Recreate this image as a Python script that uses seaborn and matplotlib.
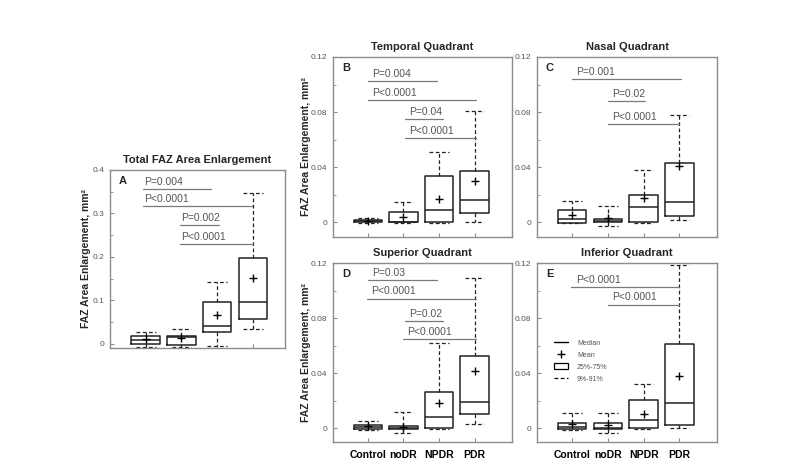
import matplotlib
matplotlib.use("Agg")
import matplotlib.pyplot as plt
import seaborn as sns
import pandas as pd
from matplotlib.lines import Line2D
from matplotlib.patches import Patch
from matplotlib.ticker import MultipleLocator

###############################################################################
# 1. DATA
###############################################################################
groups = ["Control", "noDR", "NPDR", "PDR"]

# Total FAZ area enlargement (panel A)
a_med = [0.0084, 0.0168, 0.0412, 0.097]
a_q1 = [-0.0008, -0.0015, 0.0267, 0.058]
a_q3 = [0.019, 0.019, 0.0954, 0.1977]
a_lo = [-0.006, -0.0076, -0.0038, 0.0336]
a_hi = [0.0267, 0.0344, 0.1435, 0.3466]
a_mean = [0.0122, 0.0145, 0.0656, 0.152]

# Temporal quadrant (panel B)
b_med = [0.0005, 0.0, 0.0085, 0.0158]
b_q1 = [-0.0002, -0.0002, 0.0, 0.0065]
b_q3 = [0.0012, 0.0073, 0.0332, 0.0371]
b_lo = [-0.001, -0.0007, -0.0007, 0.0002]
b_hi = [0.003, 0.0143, 0.0507, 0.0807]
b_mean = [0.0005, 0.0036, 0.0167, 0.0296]

# Nasal quadrant (panel C)
c_med = [0.0022, 0.0005, 0.0111, 0.0148]
c_q1 = [-0.0007, -0.0002, 0.0, 0.0041]
c_q3 = [0.0087, 0.0022, 0.0196, 0.0429]
c_lo = [-0.0007, -0.0027, -0.0007, 0.0012]
c_hi = [0.015, 0.0114, 0.0378, 0.0778]
c_mean = [0.0048, 0.0027, 0.0172, 0.041]

# Superior quadrant (panel D)
d_med = [0.0007, 0.0005, 0.008, 0.0187]
d_q1 = [-0.0007, -0.0005, 0.0, 0.01]
d_q3 = [0.0022, 0.0017, 0.026, 0.0528]
d_lo = [-0.0012, -0.0032, -0.0005, 0.0029]
d_hi = [0.0049, 0.0119, 0.0621, 0.109]
d_mean = [0.0017, 0.0012, 0.0183, 0.0416]

# Inferior quadrant (panel E)
e_med = [0.001, 0.0005, 0.0058, 0.018]
e_q1 = [-0.0002, -0.0005, 0.0, 0.0024]
e_q3 = [0.0039, 0.0039, 0.0204, 0.0613]
e_lo = [-0.001, -0.0032, -0.0005, 0.0002]
e_hi = [0.011, 0.011, 0.0321, 0.1185]
e_mean = [0.0032, 0.0027, 0.0102, 0.038]

# p-value brackets: (start group pos, end group pos, y, label)
a_pvals = [(0.93, 2.83, 0.3565, "P=0.004"), (0.93, 3.97, 0.3176, "P<0.0001"),
           (1.96, 3.04, 0.2725, "P=0.002"), (1.96, 3.99, 0.2305, "P<0.0001")]
b_pvals = [(1.0, 2.93, 0.1023, "P=0.004"), (1.0, 4.04, 0.0890, "P<0.0001"),
           (2.03, 3.1, 0.0749, "P=0.04"), (2.03, 4.04, 0.0611, "P<0.0001")]
c_pvals = [(1.0, 4.05, 0.104, "P=0.001"), (2.0, 3.05, 0.088, "P=0.02"),
           (2.0, 4.0, 0.071, "P<0.0001")]
d_pvals = [(1.0, 2.93, 0.1073, "P=0.03"), (0.97, 4.03, 0.0942, "P<0.0001"),
           (2.04, 3.1, 0.0779, "P=0.02"), (1.98, 4.03, 0.0645, "P<0.0001")]
e_pvals = [(0.98, 4.0, 0.1024, "P<0.0001"), (2.0, 4.0, 0.0898, "P<0.0001")]

###############################################################################
# 2. STYLE
###############################################################################
sns.set_style("ticks")
plt.rcParams["font.family"] = ["Liberation Sans", "DejaVu Sans"]
plt.rcParams["axes.edgecolor"] = "#8c8c8c"
plt.rcParams["axes.linewidth"] = 1.0
plt.rcParams["xtick.direction"] = "in"
plt.rcParams["ytick.direction"] = "in"
plt.rcParams["xtick.color"] = "#8c8c8c"
plt.rcParams["ytick.color"] = "#8c8c8c"
plt.rcParams["xtick.labelcolor"] = "black"
plt.rcParams["ytick.labelcolor"] = "#555555"

W, H = 799, 475
fig = plt.figure(figsize=(W / 100, H / 100), dpi=100)


def px_axes(left, right, top, bottom):
    return fig.add_axes([left / W, 1 - bottom / H, (right - left) / W, (bottom - top) / H])


###############################################################################
# 3. PANEL DRAWING
###############################################################################
def draw_panel(ax, med, q1, q3, lo, hi, mean, pvals, title, letter, ylim,
               major, xlim, ylabel=False, ylab_x=0.12, xlabels=False, txt_dx=0.12):
    stats = []
    for i in range(len(groups)):
        stats.append(dict(med=med[i], q1=q1[i], q3=q3[i], whislo=lo[i],
                          whishi=hi[i], fliers=[], label=groups[i]))
    pos = list(range(1, len(groups) + 1))
    ax.bxp(stats, positions=pos, widths=0.8, capwidths=0.55, showfliers=False,
           boxprops=dict(color="#222222", linewidth=1.1),
           medianprops=dict(color="#222222", linewidth=1.1),
           whiskerprops=dict(color="#222222", linewidth=0.9, linestyle=(0, (3, 2))),
           capprops=dict(color="#222222", linewidth=0.9, linestyle=(0, (3, 2))))
    df = pd.DataFrame({"pos": pos, "mean": mean})
    sns.scatterplot(data=df, x="pos", y="mean", marker="+", s=40, color="black",
                    linewidth=1.0, ax=ax, zorder=5)

    for x0, x1, y, lab in pvals:
        ax.plot([x0, x1], [y, y], color="#7a7a7a", linewidth=0.9)
        ax.annotate(lab, (x0 + txt_dx, y), xytext=(0, 1.5), textcoords="offset points",
                    ha="left", va="bottom", fontsize=7.5, color="#555555")

    ax.set_xlim(*xlim)
    ax.set_ylim(*ylim)
    ax.yaxis.set_major_locator(MultipleLocator(major))
    ax.yaxis.set_minor_locator(MultipleLocator(major / 2))
    ax.set_yticks([t for t in ax.get_yticks() if ylim[0] <= t <= ylim[1] + 1e-9])
    ax.yaxis.set_major_formatter(plt.FuncFormatter(lambda v, p: "0" if abs(v) < 1e-9 else f"{v:g}"))
    ax.tick_params(axis="y", which="major", length=3, labelsize=6, pad=4)
    ax.tick_params(axis="y", which="minor", length=2)
    ax.set_xticks(pos)
    if xlabels:
        ax.set_xticklabels(groups, fontsize=7.5, fontweight="bold")
    else:
        ax.set_xticklabels([])
    ax.tick_params(axis="x", length=3, pad=6)
    ax.set_xlabel("")
    ax.set_ylabel("")
    if ylabel:
        ax.set_ylabel("FAZ Area Enlargement, mm²", fontsize=7.5, fontweight="bold")
        ax.yaxis.set_label_coords(-ylab_x, 0.5)
    ax.set_title(title, fontsize=8, fontweight="bold", pad=5)
    ax.text(0.05, 0.965, letter, transform=ax.transAxes, fontsize=8,
            fontweight="bold", ha="left", va="top")
    for sp in ax.spines.values():
        sp.set_visible(True)


axA = px_axes(110, 285, 170, 348)
draw_panel(axA, a_med, a_q1, a_q3, a_lo, a_hi, a_mean, a_pvals,
           "Total FAZ Area Enlargement", "A", (-0.0092, 0.4), 0.1, (0, 4.9),
           ylabel=True, ylab_x=0.11, txt_dx=0.03)

axB = px_axes(333, 512, 57, 237)
draw_panel(axB, b_med, b_q1, b_q3, b_lo, b_hi, b_mean, b_pvals,
           "Temporal Quadrant", "B", (-0.0109, 0.12), 0.04, (0.02, 5.05),
           ylabel=True, ylab_x=0.125)

axC = px_axes(537, 717, 57, 237)
draw_panel(axC, c_med, c_q1, c_q3, c_lo, c_hi, c_mean, c_pvals,
           "Nasal Quadrant", "C", (-0.0109, 0.12), 0.04, (0.02, 5.05))

axD = px_axes(333, 512, 263, 442)
draw_panel(axD, d_med, d_q1, d_q3, d_lo, d_hi, d_mean, d_pvals,
           "Superior Quadrant", "D", (-0.010, 0.12), 0.04, (0.02, 5.05),
           ylabel=True, ylab_x=0.125, xlabels=True)

axE = px_axes(537, 717, 263, 442)
draw_panel(axE, e_med, e_q1, e_q3, e_lo, e_hi, e_mean, e_pvals,
           "Inferior Quadrant", "E", (-0.010, 0.12), 0.04, (0.02, 5.05),
           xlabels=True)

# legend explaining the box elements
handles = [
    Line2D([], [], color="black", linewidth=1.0),
    Line2D([], [], color="black", marker="+", linestyle="none", markersize=6),
    Patch(facecolor="white", edgecolor="black", linewidth=0.9),
    Line2D([], [], color="black", linewidth=0.9, linestyle=(0, (3, 2))),
]
leg = axE.legend(handles, ["Median", "Mean", "25%-75%", "9%-91%"], loc="upper left",
                 bbox_to_anchor=(0.06, 0.61), frameon=False, fontsize=5,
                 handlelength=2.0, handleheight=1.0, labelspacing=0.65, handletextpad=1.3)
for t in leg.get_texts():
    t.set_color("#555555")

fig.savefig("out.png", dpi=100)
